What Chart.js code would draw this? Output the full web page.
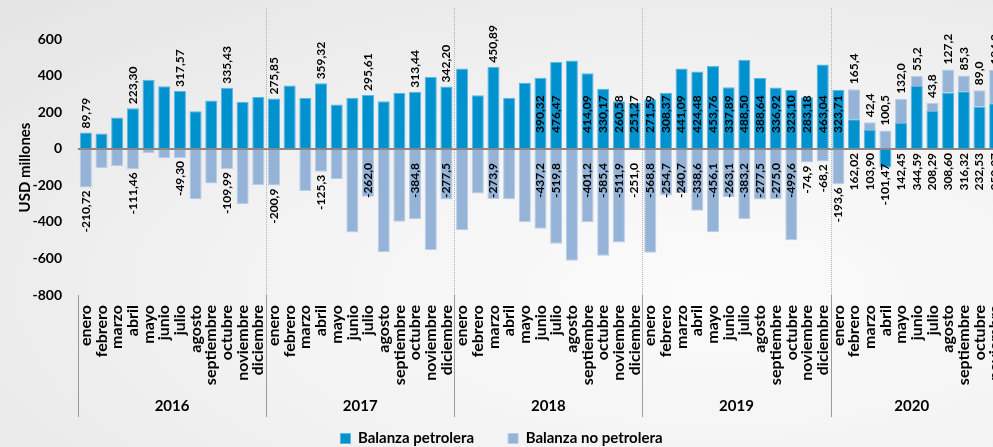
<!DOCTYPE html>
<html>
<head>
<meta charset="utf-8">
<script src="https://cdn.jsdelivr.net/npm/chart.js@4.4.1/dist/chart.umd.min.js"></script>
<style>
  html, body { margin: 0; padding: 0; overflow: hidden; }
  body {
    width: 993px; height: 447px;
    background: radial-gradient(ellipse at 72% 65%, #fbfbfb 0%, #f3f3f3 45%, #e4e4e4 100%);
  }
  #chart { display: block; }
</style>
</head>
<body>
<canvas id="chart" width="1003" height="447"></canvas>
<script>
// meses y años del eje
const meses = ['enero', 'febrero', 'marzo', 'abril', 'mayo', 'junio', 'julio', 'agosto', 'septiembre', 'octubre', 'noviembre', 'diciembre'];
const anios = ['2016', '2017', '2018', '2019', '2020'];
const mesesPorAnio = [12, 12, 12, 12, 11];
const ticksY = [-800, -600, -400, -200, 0, 200, 400, 600];
const tituloY = 'USD millones';

// Balanza petrolera (USD millones)
const petrolera = [
  89.79, 84, 172, 223.30, 379, 343, 317.57, 206, 266, 335.43, 257, 284,
  275.85, 347, 281, 359.32, 243, 281, 295.61, 261, 308, 313.44, 394, 342.20,
  440, 294, 450.89, 281, 363, 390.32, 476.47, 485, 414.09, 330.17, 260.58, 251.27,
  271.59, 308.37, 441.09, 424.48, 453.76, 337.89, 488.50, 388.64, 336.92, 323.10, 283.18, 463.04,
  323.71, 162.02, 103.90, -101.47, 142.45, 344.59, 208.29, 308.60, 316.32, 232.53, 250.37
];

// Balanza no petrolera (USD millones)
const noPetrolera = [
  -210.72, -104, -95, -111.46, -24, -51, -49.30, -275, -189, -109.99, -301, -198,
  -200.9, 0, -231, -125.3, -164, -457, -262.0, -566, -399, -384.8, -554, -277.5,
  -445, -244, -273.9, -275, -401, -437.2, -519.8, -612, -401.2, -585.4, -511.9, 0,
  -568.8, -254.7, -240.7, -338.6, -456.1, -263.1, -383.2, -277.5, -275.0, -499.6, -74.9, -68.2,
  -193.6, 165.4, 42.4, 100.5, 132.0, 55.2, 43.8, 127.2, 85.3, 89.0, 184.0
];

// etiquetas de datos (null = sin etiqueta)
const etiquetasPetrolera = [
  '89,79', null, null, '223,30', null, null, '317,57', null, null, '335,43', null, null,
  '275,85', null, null, '359,32', null, null, '295,61', null, null, '313,44', null, '342,20',
  null, null, '450,89', null, null, '390,32', '476,47', null, '414,09', '330,17', '260,58', '251,27',
  '271,59', '308,37', '441,09', '424,48', '453,76', '337,89', '488,50', '388,64', '336,92', '323,10', '283,18', '463,04',
  '323,71', '162,02', '103,90', '-101,47', '142,45', '344,59', '208,29', '308,60', '316,32', '232,53', '250,37'
];
const etiquetasNoPetrolera = [
  '-210,72', null, null, '-111,46', null, null, '-49,30', null, null, '-109,99', null, null,
  '-200,9', null, null, '-125,3', null, null, '-262,0', null, null, '-384,8', null, '-277,5',
  null, null, '-273,9', null, null, '-437,2', '-519,8', null, '-401,2', '-585,4', '-511,9', '-251,0',
  '-568,8', '-254,7', '-240,7', '-338,6', '-456,1', '-263,1', '-383,2', '-277,5', '-275,0', '-499,6', '-74,9', '-68,2',
  '-193,6', '165,4', '42,4', '100,5', '132,0', '55,2', '43,8', '127,2', '85,3', '89,0', '184,2'
];

const categorias = [];
mesesPorAnio.forEach((n) => {
  for (let m = 0; m < n; m++) categorias.push(meses[m]);
});

const fuente = "Lato, 'Open Sans', sans-serif";

// separadores de años + nombres de año bajo el eje + titulo del eje Y
const aniosPlugin = {
  id: 'anios',
  afterDatasetsDraw(chart) {
    const { ctx, chartArea } = chart;
    const x = chart.scales.x, y = chart.scales.y;
    const yCero = y.getPixelForValue(0);

    // linea del cero
    ctx.save();
    ctx.strokeStyle = '#878787';
    ctx.lineWidth = 2;
    ctx.beginPath();
    ctx.moveTo(chartArea.left, yCero);
    ctx.lineTo(chartArea.right, yCero);
    ctx.stroke();

    let inicio = 0;
    mesesPorAnio.forEach((n, i) => {
      const xIni = inicio === 0 ? chartArea.left
        : (x.getPixelForValue(inicio - 1) + x.getPixelForValue(inicio)) / 2;
      const xFin = Math.min(chartArea.right, window.innerWidth);
      const xSig = inicio + n < categorias.length
        ? (x.getPixelForValue(inicio + n - 1) + x.getPixelForValue(inicio + n)) / 2
        : xFin;

      // linea continua en la zona de etiquetas
      ctx.strokeStyle = '#9a9a9a';
      ctx.lineWidth = 1;
      ctx.setLineDash([]);
      ctx.beginPath();
      ctx.moveTo(Math.round(xIni) + 0.5, chartArea.bottom);
      ctx.lineTo(Math.round(xIni) + 0.5, chartArea.bottom + 122);
      ctx.stroke();

      // linea punteada dentro del grafico
      if (inicio > 0) {
        ctx.strokeStyle = '#b0b0b0';
        ctx.setLineDash([1, 1]);
        ctx.beginPath();
        ctx.moveTo(Math.round(xIni) + 0.5, chartArea.top);
        ctx.lineTo(Math.round(xIni) + 0.5, chartArea.bottom);
        ctx.stroke();
        ctx.setLineDash([]);
      }

      ctx.fillStyle = '#000';
      ctx.font = 'bold 15px ' + fuente;
      ctx.textAlign = 'center';
      ctx.textBaseline = 'middle';
      ctx.fillText(anios[i], (xIni + xSig) / 2, chartArea.bottom + 111);
      inicio += n;
    });

    // titulo del eje Y
    ctx.translate(25, (chartArea.top + chartArea.bottom) / 2 + 16);
    ctx.rotate(-Math.PI / 2);
    ctx.font = 'bold 15px ' + fuente;
    ctx.textAlign = 'center';
    ctx.textBaseline = 'middle';
    ctx.fillText(tituloY, 0, 0);
    ctx.restore();
  }
};

// etiquetas de datos rotadas
const etiquetasPlugin = {
  id: 'etiquetas',
  afterDraw(chart) {
    const { ctx } = chart;
    const yCero = chart.scales.y.getPixelForValue(0);
    ctx.save();
    ctx.fillStyle = '#000';
    ctx.font = 'bold 12px ' + fuente;
    ctx.textBaseline = 'middle';

    const dibujar = (texto, x, y, alinear) => {
      ctx.save();
      ctx.translate(x, y);
      ctx.rotate(-Math.PI / 2);
      ctx.textAlign = alinear;
      ctx.fillText(texto, 0, 0);
      ctx.restore();
    };

    chart.getDatasetMeta(0).data.forEach((bar, i) => {
      const texto = etiquetasPetrolera[i];
      if (!texto) return;
      if (i < 29) {
        dibujar(texto, bar.x, bar.y - 4, 'left');
      } else if (i < 49) {
        dibujar(texto, bar.x, yCero - 16, 'left');
      } else {
        dibujar(texto, bar.x, Math.max(yCero + 4, bar.y - 4), 'right');
      }
    });

    chart.getDatasetMeta(1).data.forEach((bar, i) => {
      const texto = etiquetasNoPetrolera[i];
      if (!texto) return;
      if (noPetrolera[i] > 0) {
        dibujar(texto, bar.x, bar.y - 5, 'left');
      } else {
        const largo = Math.abs(bar.y - bar.base);
        const y = (largo >= 42 || largo < 2) ? yCero + 14 : bar.y + 3;
        dibujar(texto, bar.x, y, 'right');
      }
    });
    ctx.restore();
  }
};

const ctx = document.getElementById('chart').getContext('2d');

new Chart(ctx, {
  type: 'bar',
  data: {
    labels: categorias,
    datasets: [
      {
        label: 'Balanza petrolera',
        data: petrolera,
        backgroundColor: '#0092CF',
        borderColor: '#5ab6e2',
        borderWidth: 1,
        barPercentage: 0.77,
        categoryPercentage: 1
      },
      {
        label: 'Balanza no petrolera',
        data: noPetrolera,
        backgroundColor: '#95B3D7',
        borderColor: '#b9cde6',
        borderWidth: 1,
        barPercentage: 0.77,
        categoryPercentage: 1
      }
    ]
  },
  options: {
    responsive: false,
    animation: false,
    layout: { padding: { top: 0, left: 0, right: 0, bottom: -9 } },
    plugins: {
      legend: {
        position: 'bottom',
        labels: {
          boxWidth: 10,
          boxHeight: 10,
          padding: 34,
          color: '#000',
          font: { family: fuente, size: 15, weight: 'bold' }
        }
      },
      tooltip: { enabled: false }
    },
    scales: {
      x: {
        stacked: true,
        grid: { display: false, drawTicks: false },
        border: { display: false },
        ticks: {
          autoSkip: false,
          minRotation: 90,
          maxRotation: 90,
          padding: 10,
          color: '#000',
          font: { family: fuente, size: 16, weight: 'bold' }
        },
        afterFit(s) {
          s.height = 102;
          s.paddingLeft = 0;
          s.paddingRight = 0;
        }
      },
      y: {
        stacked: true,
        min: -800,
        max: 772,
        grid: { display: false, drawTicks: false },
        border: { display: false },
        ticks: {
          padding: 16,
          color: '#000',
          font: { family: fuente, size: 14, weight: 'bold' }
        },
        afterBuildTicks(s) {
          s.ticks = ticksY.map(v => ({ value: v }));
        },
        afterFit(s) {
          s.width = 78;
          s.paddingTop = 8;
          s.paddingBottom = 0;
        }
      }
    }
  },
  plugins: [aniosPlugin, etiquetasPlugin]
});
</script>
</body>
</html>
